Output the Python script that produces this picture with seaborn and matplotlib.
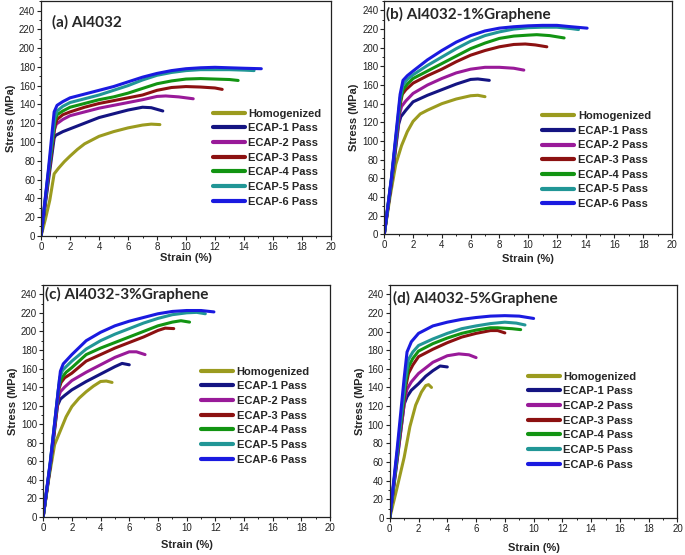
import seaborn as sns
import numpy as np
import pandas as pd
import matplotlib
matplotlib.use("Agg")
import matplotlib.pyplot as plt
from matplotlib.ticker import MultipleLocator, AutoMinorLocator

# series names and colours (shared by all four panels)
series = ["Homogenized", "ECAP-1 Pass", "ECAP-2 Pass", "ECAP-3 Pass",
          "ECAP-4 Pass", "ECAP-5 Pass", "ECAP-6 Pass"]
colors = ["#9b9b1f", "#141482", "#991a99", "#8c1111", "#129412", "#219696", "#1a1ae0"]

# (a) Al4032 -- (strain %, stress MPa)
a_hom = [(0, 0), (0.3, 18), (0.6, 38), (0.9, 66), (1.2, 72), (1.6, 79), (2, 85), (2.5, 92), (3, 98),
         (3.5, 102), (4, 106), (5, 111), (6, 115), (7, 118), (7.6, 119), (8.2, 118.5)]
a_e1 = [(0, 0), (0.5, 58), (0.9, 104), (1.0, 107), (1.5, 111), (2, 114), (3, 120), (4, 126), (5, 130),
        (6, 134), (7, 137), (7.6, 136.5), (8.4, 133)]
a_e2 = [(0, 0), (0.5, 62), (0.9, 112), (1.05, 119), (1.5, 124), (2, 128), (3, 132), (4, 136), (5, 139),
        (6, 142), (7, 145), (8, 148.5), (8.6, 149), (9.5, 148), (10.5, 146)]
a_e3 = [(0, 0), (0.5, 64), (0.95, 117), (1.1, 124), (1.5, 129), (2, 132), (3, 137), (4, 141), (5, 144),
        (6, 147), (7, 150), (8, 155), (9, 158), (10, 159), (11, 158.5), (12, 157.5), (12.5, 156)]
a_e4 = [(0, 0), (0.5, 66), (0.95, 122), (1.1, 129), (1.5, 133), (2, 137), (3, 141), (4, 145), (5, 148),
        (6, 152), (7, 157), (8, 162), (9, 165), (10, 167), (11, 167.5), (12, 167), (13, 166.5), (13.6, 165.5)]
a_e5 = [(0, 0), (0.5, 68), (0.95, 126), (1.1, 133), (1.5, 138), (2, 142), (3, 146), (4, 150), (5, 155),
        (6, 160), (7, 166), (8, 171), (9, 174), (10, 176), (11, 177), (12, 177), (13, 177), (14, 176.5), (14.7, 176)]
a_e6 = [(0, 0), (0.5, 70), (0.9, 132), (1.1, 139), (1.5, 143), (2, 147), (3, 151), (4, 155), (5, 159),
        (6, 164), (7, 169), (8, 173), (9, 176), (10, 178), (11, 179), (12, 179.5), (13, 179), (14, 178.5), (15.2, 178)]

# (b) Al4032-1%Graphene
b_hom = [(0, 0), (0.4, 40), (0.8, 75), (1.2, 95), (1.6, 110), (2.0, 121), (2.5, 129), (3, 133), (4, 140),
         (5, 145), (6, 148.5), (6.5, 149), (7, 147.5)]
b_e1 = [(0, 0), (0.5, 55), (1.0, 118), (1.15, 126), (1.5, 133), (2, 142), (3, 149), (4, 155), (5, 161),
        (6, 166), (6.5, 166.5), (7.3, 165)]
b_e2 = [(0, 0), (0.5, 57), (1.05, 128), (1.2, 137), (1.5, 143), (2, 151), (3, 160), (4, 167), (5, 173),
        (6, 177), (7, 179), (8, 179), (9, 178), (9.7, 176)]
b_e3 = [(0, 0), (0.5, 58), (1.05, 135), (1.25, 150), (1.5, 155), (2, 162), (3, 170), (4, 177), (5, 185),
        (6, 192), (7, 197), (8, 201), (9, 203.5), (9.8, 204), (10.5, 203), (11.3, 201)]
b_e4 = [(0, 0), (0.5, 59), (1.1, 142), (1.3, 155), (1.6, 161), (2, 167), (3, 175), (4, 183), (5, 191),
        (6, 199), (7, 205), (8, 210), (9, 212.5), (10, 213.5), (10.6, 214), (11.5, 213), (12.5, 210.5)]
b_e5 = [(0, 0), (0.5, 60), (1.1, 146), (1.3, 160), (1.6, 166), (2, 171), (3, 181), (4, 190), (5, 199),
        (6, 207), (7, 213), (8, 217), (9, 220), (10, 221.5), (11, 222), (12, 222), (13, 220.5), (13.5, 219.5)]
b_e6 = [(0, 0), (0.5, 61), (1.1, 150), (1.3, 165), (1.6, 170), (2, 175), (3, 187), (4, 197), (5, 206),
        (6, 213), (7, 218), (8, 221), (9, 222.5), (10, 223.5), (11, 224), (12, 224), (13, 222.5), (14.1, 221)]

# (c) Al4032-3%Graphene
c_hom = [(0, 0), (0.4, 42), (0.8, 78), (1.2, 93), (1.6, 108), (2, 119), (2.5, 128), (3, 135), (3.5, 141),
         (4, 146), (4.4, 146.5), (4.8, 145)]
c_e1 = [(0, 0), (0.5, 55), (1.0, 120), (1.2, 127), (1.5, 131), (2, 137), (3, 146), (4, 154), (5, 162),
        (5.5, 165.5), (6.0, 164)]
c_e2 = [(0, 0), (0.5, 56), (1.05, 128), (1.2, 135), (1.5, 140), (2, 147), (3, 156), (4, 164), (5, 172),
        (6, 178), (6.5, 178), (7.1, 175)]
c_e3 = [(0, 0), (0.5, 57), (1.1, 138), (1.25, 145), (1.5, 150), (2, 155), (3, 168), (4, 175), (5, 182),
        (6, 188), (7, 194), (8, 201), (8.5, 203.5), (9.1, 203)]
c_e4 = [(0, 0), (0.5, 58), (1.1, 142), (1.3, 150), (1.6, 156), (2, 161), (3, 175), (4, 182), (5, 188),
        (6, 194), (7, 200), (8, 206), (9, 210), (9.6, 211.5), (10.2, 210)]
c_e5 = [(0, 0), (0.5, 59), (1.15, 150), (1.35, 158), (1.6, 162), (2, 168), (3, 181), (4, 190), (5, 197),
        (6, 203), (7, 209), (8, 214), (9, 218), (10, 220), (10.7, 220.5), (11.3, 219)]
c_e6 = [(0, 0), (0.5, 60), (1.2, 157), (1.4, 165), (1.7, 170), (2, 175), (3, 190), (4, 199), (5, 206),
        (6, 211), (7, 215), (8, 219), (9, 221.5), (10, 222.5), (11, 222.5), (11.9, 221)]

# (d) Al4032-5%Graphene
d_hom = [(0, 0), (0.5, 32), (1.0, 65), (1.4, 98), (1.8, 121), (2.2, 135), (2.5, 142), (2.7, 143), (2.9, 140)]
d_e1 = [(0, 0), (0.5, 60), (1.0, 122), (1.2, 130), (1.5, 137), (2, 144), (2.5, 152), (3, 158), (3.5, 163),
        (4.0, 162)]
d_e2 = [(0, 0), (0.5, 62), (1.05, 128), (1.2, 138), (1.5, 146), (2, 155), (3, 167), (4, 174), (4.8, 176),
        (5.5, 175), (6.0, 172)]
d_e3 = [(0, 0), (0.5, 65), (1.1, 140), (1.3, 155), (1.6, 164), (2, 173), (3, 181), (4, 188), (5, 194),
        (6, 198), (7, 201), (7.5, 201), (8.0, 198.5)]
d_e4 = [(0, 0), (0.5, 66), (1.1, 145), (1.3, 162), (1.6, 171), (2, 179), (3, 187), (4, 193), (5, 198),
        (6, 201.5), (7, 204), (7.5, 204), (8.5, 203), (9.1, 202)]
d_e5 = [(0, 0), (0.5, 68), (1.1, 150), (1.3, 170), (1.6, 178), (2, 185), (3, 192), (4, 198), (5, 203),
        (6, 206), (7, 208.5), (8, 210), (8.8, 209), (9.4, 207)]
d_e6 = [(0, 0), (0.5, 72), (1.0, 150), (1.2, 178), (1.5, 189), (2, 198), (3, 206), (4, 210), (5, 213),
        (6, 215), (7, 216.5), (8, 217), (9, 216.5), (10, 214)]

panels = [
    ("(a) Al4032", [a_hom, a_e1, a_e2, a_e3, a_e4, a_e5, a_e6]),
    ("(b) Al4032-1%Graphene", [b_hom, b_e1, b_e2, b_e3, b_e4, b_e5, b_e6]),
    ("(c) Al4032-3%Graphene", [c_hom, c_e1, c_e2, c_e3, c_e4, c_e5, c_e6]),
    ("(d) Al4032-5%Graphene", [d_hom, d_e1, d_e2, d_e3, d_e4, d_e5, d_e6]),
]

sns.set_style("ticks")
plt.rcParams["font.family"] = ["Liberation Sans", "DejaVu Sans"]

fig = plt.figure(figsize=(6.85, 5.55), dpi=100)

# axes rectangles (left, bottom, width, height) in figure fractions
rects = [(0.060, 0.575, 0.423, 0.423), (0.561, 0.578, 0.420, 0.420),
         (0.063, 0.0685, 0.419, 0.418), (0.569, 0.0667, 0.420, 0.420)]
title_pos = [(0.038, 0.911), (0.005, 0.944), (0.007, 0.957), (0.012, 0.94)]
legend_pos = [(0.593, 0.333), (0.549, 0.318), (0.550, 0.437), (0.479, 0.418)]
xlabel_pad = [1, 3, 5, 6.5]

palette = dict(zip(series, colors))

for i, (title, curves) in enumerate(panels):
    ax = fig.add_axes(rects[i])
    frames = []
    for name, pts in zip(series, curves):
        arr = np.array(pts, dtype=float)
        frames.append(pd.DataFrame({"strain": arr[:, 0], "stress": arr[:, 1], "series": name}))
    df = pd.concat(frames, ignore_index=True)
    sns.lineplot(data=df, x="strain", y="stress", hue="series", hue_order=series,
                 palette=palette, estimator=None, sort=False, linewidth=2.2, ax=ax)

    ax.set_xlim(0, 20)
    ax.set_ylim(0, 250)
    ax.xaxis.set_major_locator(MultipleLocator(2))
    ax.yaxis.set_major_locator(MultipleLocator(20))
    ax.xaxis.set_minor_locator(AutoMinorLocator(2))
    ax.yaxis.set_minor_locator(AutoMinorLocator(2))
    ax.set_yticks(np.arange(0, 241, 20))
    ax.tick_params(which="major", direction="out", length=2.8, width=0.8, labelsize=7,
                   colors="#222222", pad=1.5)
    ax.tick_params(which="minor", direction="out", length=1.5, width=0.7, colors="#222222")
    for sp in ax.spines.values():
        sp.set_linewidth(0.9)
        sp.set_color("#222222")

    ax.set_xlabel("Strain (%)", fontsize=8, fontweight="bold", labelpad=xlabel_pad[i])
    ax.set_ylabel("Stress (MPa)", fontsize=8, fontweight="bold", labelpad=2)

    ax.text(title_pos[i][0], title_pos[i][1], title, transform=ax.transAxes,
            fontsize=11, fontweight="bold", family=["Lato", "DejaVu Sans"],
            ha="left", va="center")

    handles, labels = ax.get_legend_handles_labels()
    leg = ax.legend(handles, labels, loc="center left", bbox_to_anchor=legend_pos[i],
                    frameon=False, prop={"weight": "bold", "size": 8},
                    handlelength=2.9, handletextpad=0.3, labelspacing=0.42,
                    borderpad=0, borderaxespad=0)
    for h in leg.legend_handles:
        h.set_linewidth(3)

fig.savefig("out.png", dpi=100)
